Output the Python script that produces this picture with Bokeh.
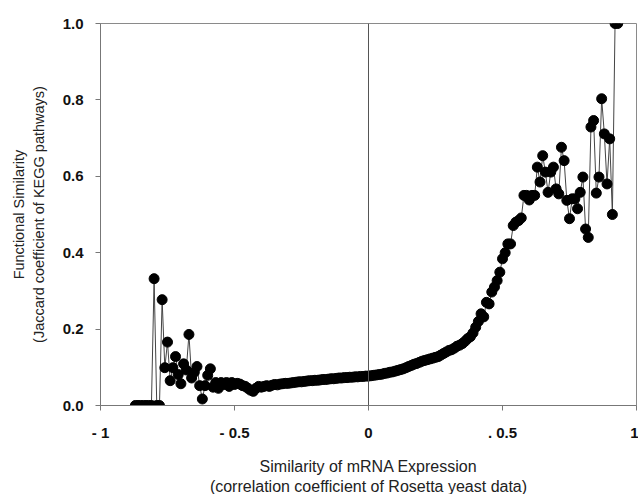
from bokeh.plotting import figure
from bokeh.models import Range1d, Span, FixedTicker
from bokeh.embed import file_html
from bokeh.resources import INLINE

# Similarity of mRNA expression (x) vs functional similarity (y)
expr_sim = [
    -0.87, -0.86, -0.85, -0.84, -0.83, -0.82, -0.81, -0.80, -0.79, -0.78,
    -0.77, -0.76, -0.75, -0.74, -0.73, -0.72, -0.71, -0.70, -0.69, -0.68,
    -0.67, -0.66, -0.65, -0.64, -0.63, -0.62, -0.61, -0.60, -0.59, -0.58,
    -0.57, -0.56, -0.55, -0.54, -0.53, -0.52, -0.51, -0.50, -0.49, -0.48,
    -0.47, -0.46, -0.45, -0.44, -0.43, -0.42, -0.41, -0.40, -0.39, -0.38,
    -0.37, -0.36, -0.35, -0.34, -0.33, -0.32, -0.31, -0.30, -0.29, -0.28,
    -0.27, -0.26, -0.25, -0.24, -0.23, -0.22, -0.21, -0.20, -0.19, -0.18,
    -0.17, -0.16, -0.15, -0.14, -0.13, -0.12, -0.11, -0.10, -0.09, -0.08,
    -0.07, -0.06, -0.05, -0.04, -0.03, -0.02, -0.01, 0.00, 0.01, 0.02,
    0.03, 0.04, 0.05, 0.06, 0.07, 0.08, 0.09, 0.10, 0.11, 0.12,
    0.13, 0.14, 0.15, 0.16, 0.17, 0.18, 0.19, 0.20, 0.21, 0.22,
    0.23, 0.24, 0.25, 0.26, 0.27, 0.28, 0.29, 0.30, 0.31, 0.32,
    0.33, 0.34, 0.35, 0.36, 0.37, 0.38, 0.39, 0.40, 0.41, 0.42,
    0.43, 0.44, 0.45, 0.46, 0.47, 0.48, 0.49, 0.50, 0.51, 0.52,
    0.53, 0.54, 0.55, 0.56, 0.57, 0.58, 0.59, 0.60, 0.61, 0.62,
    0.63, 0.64, 0.65, 0.66, 0.67, 0.68, 0.69, 0.70, 0.71, 0.72,
    0.73, 0.74, 0.75, 0.76, 0.77, 0.78, 0.79, 0.80, 0.81, 0.82,
    0.83, 0.84, 0.85, 0.86, 0.87, 0.88, 0.89, 0.90, 0.91, 0.92,
    0.93,
]
func_sim = [
    0.0, 0.0, 0.0, 0.0, 0.0, 0.0, 0.0, 0.332, 0.0, 0.0,
    0.277, 0.099, 0.166, 0.065, 0.099, 0.128, 0.081, 0.057, 0.109, 0.093,
    0.186, 0.072, 0.087, 0.102, 0.052, 0.017, 0.052, 0.079, 0.096, 0.048,
    0.060, 0.045, 0.060, 0.055, 0.060, 0.050, 0.060, 0.055, 0.058, 0.056,
    0.052, 0.050, 0.045, 0.040, 0.037, 0.045, 0.050, 0.048, 0.050, 0.052,
    0.050, 0.053, 0.055, 0.054, 0.056, 0.057, 0.058, 0.058, 0.059, 0.060,
    0.061, 0.062, 0.062, 0.063, 0.064, 0.065, 0.065, 0.066, 0.066, 0.067,
    0.068, 0.068, 0.069, 0.070, 0.070, 0.071, 0.072, 0.072, 0.073, 0.073,
    0.074, 0.074, 0.075, 0.075, 0.076, 0.076, 0.077, 0.077, 0.078, 0.079,
    0.080, 0.081, 0.082, 0.084, 0.085, 0.087, 0.088, 0.090, 0.092, 0.094,
    0.096, 0.099, 0.102, 0.105, 0.108, 0.110, 0.113, 0.116, 0.118, 0.120,
    0.122, 0.124, 0.126, 0.128, 0.132, 0.136, 0.140, 0.144, 0.146, 0.150,
    0.155, 0.158, 0.162, 0.168, 0.175, 0.180, 0.190, 0.205, 0.220, 0.240,
    0.232, 0.270, 0.266, 0.297, 0.310, 0.327, 0.349, 0.384, 0.400, 0.423,
    0.423, 0.471, 0.480, 0.484, 0.491, 0.550, 0.550, 0.538, 0.550, 0.550,
    0.624, 0.585, 0.654, 0.611, 0.558, 0.611, 0.624, 0.567, 0.554, 0.676,
    0.641, 0.537, 0.489, 0.541, 0.541, 0.515, 0.558, 0.598, 0.462, 0.440,
    0.729, 0.746, 0.556, 0.598, 0.803, 0.711, 0.580, 0.698, 0.500, 1.0,
    1.0,
]

x_ticks = [-1, -0.5, 0, 0.5, 1]
x_tick_labels = ["- 1", "- 0.5", "0", ". 0.5", "1"]
y_ticks = [0.0, 0.2, 0.4, 0.6, 0.8, 1.0]
y_tick_labels = ["0.0", "0.2", "0.4", "0.6", "0.8", "1.0"]

p = figure(
    output_backend="svg", toolbar_location=None,
    frame_width=536, frame_height=382,
    min_border_left=100, min_border_right=2, min_border_top=23, min_border_bottom=87,
    x_range=Range1d(-1, 1), y_range=Range1d(0, 1),
    background_fill_color="white", border_fill_color="white",
)
p.grid.visible = False
p.outline_line_color = "#8a8a8a"
p.outline_line_width = 1

p.add_layout(Span(location=0, dimension="height", line_color="#555555", line_width=1))

p.line(expr_sim, func_sim, line_color="#444444", line_width=1)
p.scatter(expr_sim, func_sim, size=10, fill_color="black", line_color="black")

font = "Liberation Sans"
for ax in (p.xaxis[0], p.yaxis[0]):
    ax.axis_line_color = "#777777"
    ax.major_tick_line_color = "#777777"
    ax.major_tick_out = 5
    ax.major_tick_in = 0
    ax.minor_tick_line_color = None
    ax.major_label_text_font = font
    ax.major_label_text_font_style = "bold"
    ax.major_label_text_font_size = "15px"
    ax.major_label_text_color = "#111111"
    ax.axis_label_text_font = font
    ax.axis_label_text_font_style = "normal"
    ax.axis_label_text_color = "#222222"

p.xaxis.axis_label_text_font_size = "16px"
p.yaxis.axis_label_text_font_size = "14.5px"

p.xaxis.ticker = FixedTicker(ticks=x_ticks)
p.xaxis.major_label_overrides = dict(zip(x_ticks, x_tick_labels))
p.yaxis.ticker = FixedTicker(ticks=y_ticks)
p.yaxis.major_label_overrides = dict(zip(y_ticks, y_tick_labels))
p.xaxis.major_label_standoff = 13
p.yaxis.major_label_standoff = 12

p.xaxis.axis_label = "Similarity of mRNA Expression\n(correlation coefficient of Rosetta yeast data)"
p.yaxis.axis_label = "Functional Similarity\n(Jaccard coefficient of KEGG pathways)"
p.xaxis.axis_label_standoff = 14
p.yaxis.axis_label_standoff = 13

open("out.html", "w").write(file_html(p, INLINE))
